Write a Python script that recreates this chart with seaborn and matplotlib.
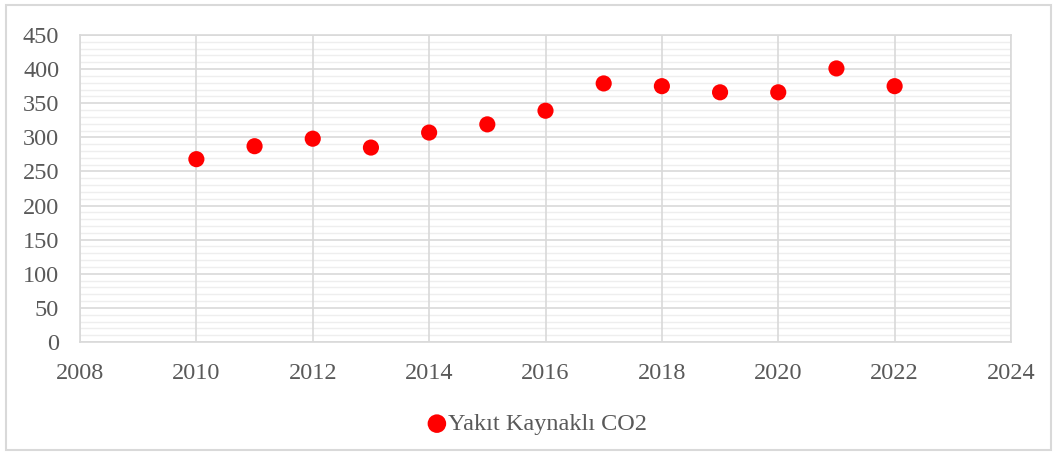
import matplotlib
matplotlib.use("Agg")
import matplotlib.pyplot as plt
from matplotlib.patches import Rectangle
from matplotlib.ticker import MultipleLocator
import seaborn as sns
import pandas as pd

years = [2010, 2011, 2012, 2013, 2014, 2015, 2016, 2017, 2018, 2019, 2020, 2021, 2022]
co2 = [268, 287, 298, 285, 307, 319, 339, 379, 375, 366, 366, 401, 375]
series_name = "Yakıt Kaynaklı CO2"

df = pd.DataFrame({"Yıl": years, "CO2": co2})

sns.set_theme(style="white")
plt.rcParams["font.family"] = ["Liberation Serif", "DejaVu Serif"]

text_color = "#595959"
major_grid = "#d9d9d9"
minor_grid = "#eeeeee"

fig = plt.figure(figsize=(10.57, 4.54), dpi=100)
ax = fig.add_axes([80 / 1057, (454 - 342) / 454, (1011 - 80) / 1057, (342 - 35) / 454])

sns.scatterplot(data=df, x="Yıl", y="CO2", ax=ax, color="#ff0000", s=135,
                edgecolor="none", label=series_name, zorder=3)

ax.set_xlim(2008, 2024)
ax.set_ylim(0, 450)
ax.xaxis.set_major_locator(MultipleLocator(2))
ax.yaxis.set_major_locator(MultipleLocator(50))
ax.yaxis.set_minor_locator(MultipleLocator(10))

ax.grid(which="minor", axis="y", color=minor_grid, linewidth=1.0)
ax.grid(which="major", axis="both", color=major_grid, linewidth=1.2)
ax.set_axisbelow(True)
# horizontal grid first, so the vertical major lines sit on top of the minor ones
ax.yaxis.set_zorder(0.3)
ax.xaxis.set_zorder(0.6)

for side in ["left", "right", "top", "bottom"]:
    ax.spines[side].set_color(major_grid)
    ax.spines[side].set_linewidth(1.2)

ax.tick_params(axis="both", which="both", length=0, labelsize=17.5, labelcolor=text_color)
ax.tick_params(axis="y", pad=15)
ax.tick_params(axis="x", pad=15)
ax.set_xlabel("")
ax.set_ylabel("")

leg = ax.legend(loc="center", bbox_to_anchor=(537 / 1057, (454 - 424) / 454),
                bbox_transform=fig.transFigure, frameon=False, fontsize=17.5,
                handlelength=0.8, handletextpad=0.05, markerscale=1.15, borderpad=0)
for t in leg.get_texts():
    t.set_color(text_color)

fig.patches.append(Rectangle((6 / 1057, 4 / 454), 1045 / 1057, 445 / 454,
                             transform=fig.transFigure, fill=False,
                             edgecolor="#d9d9d9", linewidth=1.5))

fig.savefig("out.png", dpi=100, facecolor="white")
